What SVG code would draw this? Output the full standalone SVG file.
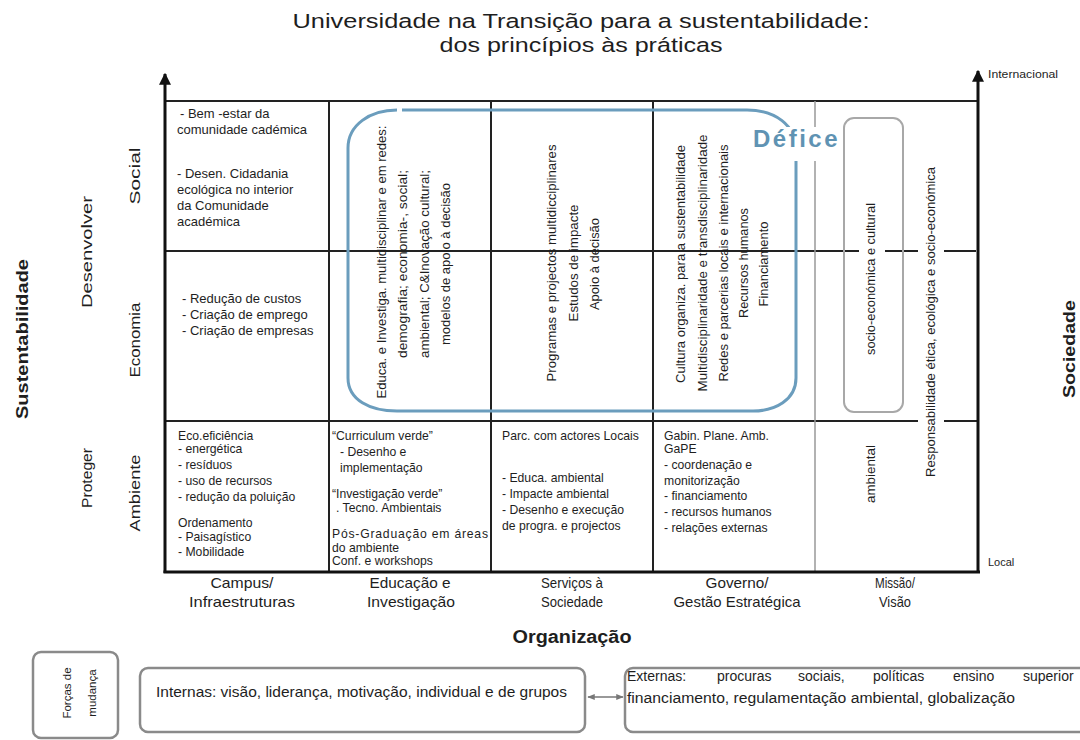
<svg xmlns="http://www.w3.org/2000/svg" width="1080" height="740" viewBox="0 0 1080 740">
<style>
text{font-family:"Liberation Sans","Noto Sans",sans-serif;fill:#1e1e1e}
.cell{font-size:13px}
.cell3{font-size:12.2px}
.rot{font-size:12.5px;text-anchor:middle}
.ax{font-size:15px;text-anchor:middle}
.axb{font-size:16.5px;font-weight:bold;text-anchor:middle}
.col{font-size:14.5px;text-anchor:middle}
.grid{stroke:#222;stroke-width:2;fill:none}
.thick{stroke:#111;stroke-width:3;fill:none}
.box{fill:#fff;stroke:#8a8a8a;stroke-width:2.5}
</style>
<defs>
<marker id="ah" viewBox="0 0 10 10" refX="9" refY="5" markerWidth="4" markerHeight="4" orient="auto-start-reverse"><path d="M0,0 L10,5 L0,10 z" fill="#111"/></marker>
<marker id="ag" viewBox="0 0 10 10" refX="9" refY="5" markerWidth="5" markerHeight="5" orient="auto-start-reverse"><path d="M0,1 L10,5 L0,9 z" fill="#777"/></marker>
</defs>
<rect width="1080" height="740" fill="#fff"/>

<g id="title">
<text x="581" y="28" font-size="20.5" text-anchor="middle" textLength="577" lengthAdjust="spacingAndGlyphs">Universidade na Transição para a sustentabilidade:</text>
<text x="581" y="51.5" font-size="20.5" text-anchor="middle" textLength="283" lengthAdjust="spacingAndGlyphs">dos princípios às práticas</text>
</g>

<g id="grid">
<line class="grid" x1="165" y1="101" x2="978" y2="101"/>
<line class="grid" x1="165" y1="251" x2="976" y2="251"/>
<line class="grid" x1="165" y1="421" x2="978" y2="421"/>
<line class="grid" x1="329" y1="101" x2="329" y2="572"/>
<line class="grid" x1="491" y1="101" x2="491" y2="572"/>
<line class="grid" x1="653" y1="101" x2="653" y2="572"/>
<line x1="815" y1="101" x2="815" y2="572" stroke="#999" stroke-width="1.5"/>
<line class="thick" x1="163.5" y1="572" x2="980" y2="572"/>
<line class="thick" x1="165" y1="573" x2="165" y2="74" marker-end="url(#ah)"/>
<line class="thick" x1="978" y1="573" x2="978" y2="71" marker-end="url(#ah)"/>
</g>

<g id="defice">
<path d="M402,110 H747 C775,110 796,125 796,150 V378 C796,400 775,411 753,411 H397 C370,411 348,400 348,378 V148 C348,125 370,110 397,110" fill="none" stroke="#6b9dbd" stroke-width="3"/>
<rect x="750" y="127" width="105" height="34" fill="#fff"/>
<text x="753" y="147" font-size="24" font-weight="bold" style="fill:#5f93b3" letter-spacing="2.5" textLength="87" lengthAdjust="spacingAndGlyphs">Défice</text>
</g>

<g id="missao-box">
<rect x="844" y="118" width="59" height="294" rx="10" fill="none" stroke="#a8a8a8" stroke-width="2"/>
<rect x="859" y="150" width="26" height="222" fill="#fff"/>
<rect x="859" y="424" width="25" height="106" fill="#fff"/>
<rect x="918" y="145" width="26" height="373" fill="#fff"/>
</g>

<g id="labels-left">
<text class="axb" transform="translate(28,339) rotate(-90)" textLength="160" lengthAdjust="spacingAndGlyphs">Sustentabilidade</text>
<text class="ax" transform="translate(92,252) rotate(-90)" textLength="112" lengthAdjust="spacingAndGlyphs">Desenvolver</text>
<text class="ax" transform="translate(92,478) rotate(-90)" textLength="60" lengthAdjust="spacingAndGlyphs">Proteger</text>
<text class="ax" transform="translate(140,176) rotate(-90)" textLength="57" lengthAdjust="spacingAndGlyphs">Social</text>
<text class="ax" transform="translate(140,340) rotate(-90)" textLength="75" lengthAdjust="spacingAndGlyphs">Economia</text>
<text class="ax" transform="translate(140,493) rotate(-90)" textLength="77" lengthAdjust="spacingAndGlyphs">Ambiente</text>
</g>

<g id="labels-right">
<text x="988" y="78" font-size="11" textLength="70" lengthAdjust="spacingAndGlyphs">Internacional</text>
<text x="988" y="566" font-size="11">Local</text>
<text class="axb" transform="translate(1075,349) rotate(-90)" textLength="98" lengthAdjust="spacingAndGlyphs">Sociedade</text>
</g>

<g id="cell-social-campus">
<text class="cell" x="180" y="118"> - Bem -estar da</text>
<text class="cell" x="177" y="134">comunidade cadémica</text>
<text class="cell" x="177" y="178">- Desen. Cidadania</text>
<text class="cell" x="177" y="194">ecológica no interior</text>
<text class="cell" x="177" y="210">da Comunidade</text>
<text class="cell" x="177" y="226">académica</text>
</g>

<g id="cell-economia-campus">
<text class="cell" x="182" y="303">- Redução de custos</text>
<text class="cell" x="182" y="319">- Criação de emprego</text>
<text class="cell" x="182" y="335">- Criação de empresas</text>
</g>

<g id="cell-educacao">
<text class="rot" transform="translate(386,262) rotate(-90)" textLength="273" lengthAdjust="spacingAndGlyphs">Educa. e Investiga. multidisciplinar e em redes:</text>
<text class="rot" transform="translate(407,264) rotate(-90)" textLength="188" lengthAdjust="spacingAndGlyphs">demografia; economia-, social;</text>
<text class="rot" transform="translate(429,264) rotate(-90)" textLength="188" lengthAdjust="spacingAndGlyphs">ambiental; C&amp;Inovação cultural;</text>
<text class="rot" transform="translate(450,264) rotate(-90)" textLength="162" lengthAdjust="spacingAndGlyphs">modelos de apoio à decisão</text>
</g>

<g id="cell-servicos">
<text class="rot" transform="translate(556,263) rotate(-90)" textLength="237" lengthAdjust="spacingAndGlyphs">Programas e projectos multidicciplinares</text>
<text class="rot" transform="translate(578,263) rotate(-90)" textLength="117" lengthAdjust="spacingAndGlyphs">Estudos de impacte</text>
<text class="rot" transform="translate(599,264) rotate(-90)" textLength="92" lengthAdjust="spacingAndGlyphs">Apoio à decisão</text>
</g>

<g id="cell-governo">
<text class="rot" transform="translate(685,264) rotate(-90)" textLength="238" lengthAdjust="spacingAndGlyphs">Cultura organiza. para a sustentabilidade</text>
<text class="rot" transform="translate(707,263) rotate(-90)" textLength="257" lengthAdjust="spacingAndGlyphs">Multidisciplinaridade e transdisciplinaridade</text>
<text class="rot" transform="translate(728,263) rotate(-90)" textLength="237" lengthAdjust="spacingAndGlyphs">Redes e parcerias locais e internacionais</text>
<text class="rot" transform="translate(748,263) rotate(-90)" textLength="110" lengthAdjust="spacingAndGlyphs">Recursos humanos</text>
<text class="rot" transform="translate(768,264) rotate(-90)" textLength="85" lengthAdjust="spacingAndGlyphs">Financiamento</text>
</g>

<g id="cell-missao">
<text class="rot" transform="translate(875,279) rotate(-90)" textLength="152" lengthAdjust="spacingAndGlyphs">socio-económica e cultural</text>
<text class="rot" transform="translate(875,474) rotate(-90)" textLength="58" lengthAdjust="spacingAndGlyphs">ambiental</text>
<text class="rot" transform="translate(935,322) rotate(-90)" textLength="310" lengthAdjust="spacingAndGlyphs">Responsabilidade ética, ecológica e socio-económica</text>
</g>

<g id="cell-ambiente-campus">
<text class="cell3" x="178" y="440">Eco.eficiência</text>
<text class="cell3" x="178" y="453">- energética</text>
<text class="cell3" x="178" y="469">- resíduos</text>
<text class="cell3" x="178" y="485">- uso de recursos</text>
<text class="cell3" x="178" y="501">- redução da poluição</text>
<text class="cell3" x="178" y="527">Ordenamento</text>
<text class="cell3" x="178" y="541">- Paisagístico</text>
<text class="cell3" x="178" y="556">- Mobilidade</text>
</g>

<g id="cell-ambiente-educacao">
<text class="cell3" x="332" y="440">“Curriculum verde”</text>
<text class="cell3" x="340" y="456">- Desenho e</text>
<text class="cell3" x="340" y="472">implementação</text>
<text class="cell3" x="332" y="498">“Investigação verde”</text>
<text class="cell3" x="336" y="512">. Tecno. Ambientais</text>
<text class="cell3" x="332" y="538" textLength="156" lengthAdjust="spacing">Pós-Graduação em áreas</text>
<text class="cell3" x="332" y="552">do ambiente</text>
<text class="cell3" x="332" y="565">Conf. e workshops</text>
</g>

<g id="cell-ambiente-servicos">
<text class="cell3" x="502" y="440">Parc. com actores Locais</text>
<text class="cell3" x="502" y="482">- Educa. ambiental</text>
<text class="cell3" x="502" y="498">- Impacte ambiental</text>
<text class="cell3" x="502" y="514">- Desenho e execução</text>
<text class="cell3" x="502" y="530">de progra. e projectos</text>
</g>

<g id="cell-ambiente-governo">
<text class="cell3" x="664" y="440">Gabin. Plane. Amb.</text>
<text class="cell3" x="664" y="453">GaPE</text>
<text class="cell3" x="664" y="469">- coordenação e</text>
<text class="cell3" x="664" y="485">monitorização</text>
<text class="cell3" x="664" y="500">- financiamento</text>
<text class="cell3" x="664" y="516">- recursos humanos</text>
<text class="cell3" x="664" y="532">- relações externas</text>
</g>

<g id="labels-bottom">
<text class="col" x="242" y="588" textLength="63" lengthAdjust="spacingAndGlyphs">Campus/</text>
<text class="col" x="242" y="607" textLength="106" lengthAdjust="spacingAndGlyphs">Infraestruturas</text>
<text class="col" x="410" y="588" textLength="81" lengthAdjust="spacingAndGlyphs">Educação e</text>
<text class="col" x="411" y="607" textLength="88" lengthAdjust="spacingAndGlyphs">Investigação</text>
<text class="col" x="572" y="588" textLength="62" lengthAdjust="spacingAndGlyphs">Serviços à</text>
<text class="col" x="572" y="607" textLength="62" lengthAdjust="spacingAndGlyphs">Sociedade</text>
<text class="col" x="737" y="588" textLength="63" lengthAdjust="spacingAndGlyphs">Governo/</text>
<text class="col" x="737" y="607" textLength="127" lengthAdjust="spacingAndGlyphs">Gestão Estratégica</text>
<text class="col" x="895" y="588" textLength="40" lengthAdjust="spacingAndGlyphs">Missão/</text>
<text class="col" x="895" y="607" textLength="32" lengthAdjust="spacingAndGlyphs">Visão</text>
<text x="572" y="643" font-size="18" font-weight="bold" text-anchor="middle" textLength="119" lengthAdjust="spacingAndGlyphs">Organização</text>
</g>

<g id="forcas">
<rect class="box" x="33" y="652" width="85" height="86" rx="8"/>
<text font-size="11.5" text-anchor="middle" transform="translate(71,693) rotate(-90)">Forças de</text>
<text font-size="11.5" text-anchor="middle" transform="translate(96,693) rotate(-90)">mudança</text>
</g>

<g id="internas">
<rect class="box" x="140" y="668" width="445" height="64" rx="8"/>
<text x="156" y="697" font-size="15" textLength="411" lengthAdjust="spacingAndGlyphs">Internas: visão, liderança, motivação, individual e de grupos</text>
</g>

<g id="externas">
<rect class="box" x="625" y="668" width="470" height="64" rx="8"/>
<text x="627" y="681" font-size="14">Externas:</text>
<text x="717" y="681" font-size="14">procuras</text>
<text x="798" y="681" font-size="14">sociais,</text>
<text x="873" y="681" font-size="14">políticas</text>
<text x="953" y="681" font-size="14">ensino</text>
<text x="1023" y="681" font-size="14">superior</text>
<text x="627" y="703" font-size="14" textLength="388" lengthAdjust="spacingAndGlyphs">financiamento, regulamentação ambiental, globalização</text>
</g>

<g id="connectors">
<line x1="588" y1="697" x2="623" y2="697" stroke="#777" stroke-width="1.5" marker-start="url(#ag)" marker-end="url(#ag)"/>
</g>
</svg>
